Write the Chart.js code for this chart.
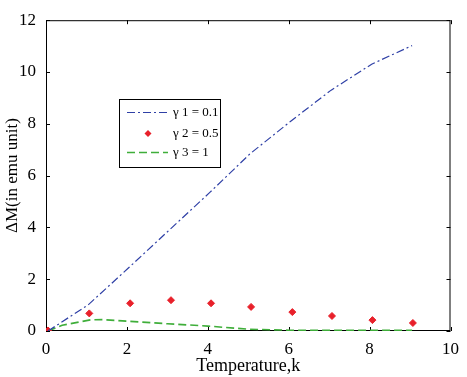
<!DOCTYPE html>
<html>
<head>
<meta charset="utf-8">
<script src="https://cdn.jsdelivr.net/npm/chart.js@4"></script>
<style>
  body { margin: 0; background: #fff; }
  #wrap { width: 467px; height: 377px; }
</style>
</head>
<body>
<div id="wrap"><canvas id="myChart" width="467" height="377"></canvas></div>
<script>
// values
const blueX = [0.05, 1.05, 2.05, 3.05, 4.05, 5.05, 6.05, 7.05, 8.05, 9.05];
const blueY = [0, 1.02, 2.45, 3.9, 5.35, 6.85, 8.1, 9.3, 10.3, 11.02];
const redX = [0.05, 1.07, 2.08, 3.09, 4.08, 5.07, 6.09, 7.07, 8.07, 9.07];
const redY = [0.02, 0.68, 1.07, 1.19, 1.07, 0.93, 0.73, 0.58, 0.42, 0.31];
const greenX = [0.05, 0.4, 1.1, 1.4, 2, 3, 4, 5, 6, 7, 8, 9.05];
const greenY = [0, 0.22, 0.43, 0.44, 0.38, 0.28, 0.19, 0.07, 0.03, 0.03, 0.03, 0.03];
const labels = ["\u03b3 1 = 0.1", "\u03b3 2 = 0.5", "\u03b3 3 = 1"];
const xTicks = [0, 2, 4, 6, 8, 10];
const yTicks = [0, 2, 4, 6, 8, 10, 12];

const pts = (xs, ys) => xs.map((x, i) => ({ x: x, y: ys[i] }));
const serif = "'Liberation Serif', 'Times New Roman', serif";

// box frame with inward ticks (under the data)
const framePlugin = {
  id: "frame",
  beforeDatasetsDraw(chart) {
    const c = chart.ctx;
    const a = chart.chartArea;
    const xs = chart.scales.x;
    const ys = chart.scales.y;
    c.save();
    c.strokeStyle = "#000";
    c.lineWidth = 1;
    c.strokeRect(a.left + 0.5, a.top + 0.5, a.right - a.left - 1, a.bottom - a.top - 1);
    c.beginPath();
    xTicks.forEach((v) => {
      const px = Math.round(xs.getPixelForValue(v)) + 0.5;
      c.moveTo(px, a.bottom); c.lineTo(px, a.bottom - 4);
      c.moveTo(px, a.top); c.lineTo(px, a.top + 4);
    });
    yTicks.forEach((v) => {
      const py = Math.round(ys.getPixelForValue(v)) + 0.5;
      c.moveTo(a.left, py); c.lineTo(a.left + 4, py);
      c.moveTo(a.right, py); c.lineTo(a.right - 4, py);
    });
    c.stroke();
    c.restore();
  },
};

// legend box drawn inside the plot
const legendPlugin = {
  id: "boxLegend",
  afterDraw(chart) {
    const c = chart.ctx;
    const bx = 119, by = 99, bw = 101, bh = 68;
    c.save();
    c.fillStyle = "#fff";
    c.fillRect(bx, by, bw, bh);
    c.strokeStyle = "#000";
    c.lineWidth = 1;
    c.strokeRect(bx + 0.5, by + 0.5, bw, bh);
    const rows = [112, 133, 152];
    chart.data.datasets.forEach((ds, i) => {
      const y = rows[i] + 0.5;
      if (ds.showLine) {
        c.strokeStyle = ds.borderColor;
        c.lineWidth = ds.borderWidth;
        c.setLineDash(ds.borderDash);
        c.beginPath();
        c.moveTo(127, y); c.lineTo(168, y);
        c.stroke();
        c.setLineDash([]);
      } else {
        c.fillStyle = ds.pointBackgroundColor;
        c.beginPath();
        c.moveTo(148, y - 3.5); c.lineTo(151.5, y); c.lineTo(148, y + 3.5); c.lineTo(144.5, y);
        c.closePath();
        c.fill();
      }
      c.fillStyle = "#000";
      c.font = "13px " + serif;
      c.textBaseline = "middle";
      c.fillText(labels[i], 173, y);
    });
    c.restore();
  },
};

new Chart(document.getElementById("myChart"), {
  type: "scatter",
  data: {
    datasets: [
      {
        label: labels[0],
        data: pts(blueX, blueY),
        showLine: true,
        borderColor: "#2f40a6",
        borderWidth: 1.2,
        borderDash: [8, 3, 2, 3],
        pointRadius: 0,
      },
      {
        label: labels[1],
        data: pts(redX, redY),
        showLine: false,
        pointStyle: "rectRot",
        pointRadius: 3.5,
        pointBackgroundColor: "#e8202a",
        pointBorderColor: "#e8202a",
        borderColor: "#e8202a",
        borderWidth: 1,
      },
      {
        label: labels[2],
        data: pts(greenX, greenY),
        showLine: true,
        borderColor: "#3fae3a",
        borderWidth: 1.6,
        borderDash: [8, 4],
        pointRadius: 0,
      },
    ],
  },
  options: {
    responsive: false,
    animation: false,
    layout: { padding: { top: 8, right: 11, left: 0, bottom: 0 } },
    plugins: { legend: { display: false }, tooltip: { enabled: false } },
    scales: {
      x: {
        type: "linear",
        min: 0,
        max: 10,
        afterBuildTicks: (s) => { s.ticks = xTicks.map((v) => ({ value: v })); },
        afterFit: (s) => { s.height = 46; },
        grid: { display: false, drawTicks: false },
        border: { display: false },
        ticks: { color: "#000", font: { family: serif, size: 17 }, padding: 8, maxRotation: 0 },
        title: {
          display: true,
          text: "Temperature,k",
          color: "#000",
          font: { family: serif, size: 18 },
          padding: { top: 0, bottom: 0 },
        },
      },
      y: {
        min: 0,
        max: 12,
        afterBuildTicks: (s) => { s.ticks = yTicks.map((v) => ({ value: v })); },
        afterFit: (s) => { s.width = 46; },
        grid: { display: false, drawTicks: false },
        border: { display: false },
        ticks: { color: "#000", font: { family: serif, size: 17 }, padding: 10 },
        title: {
          display: true,
          text: "\u0394M(in emu unit)",
          color: "#000",
          font: { family: serif, size: 17 },
          padding: { top: 2, bottom: 0 },
        },
      },
    },
  },
  plugins: [framePlugin, legendPlugin],
});
</script>
</body>
</html>
